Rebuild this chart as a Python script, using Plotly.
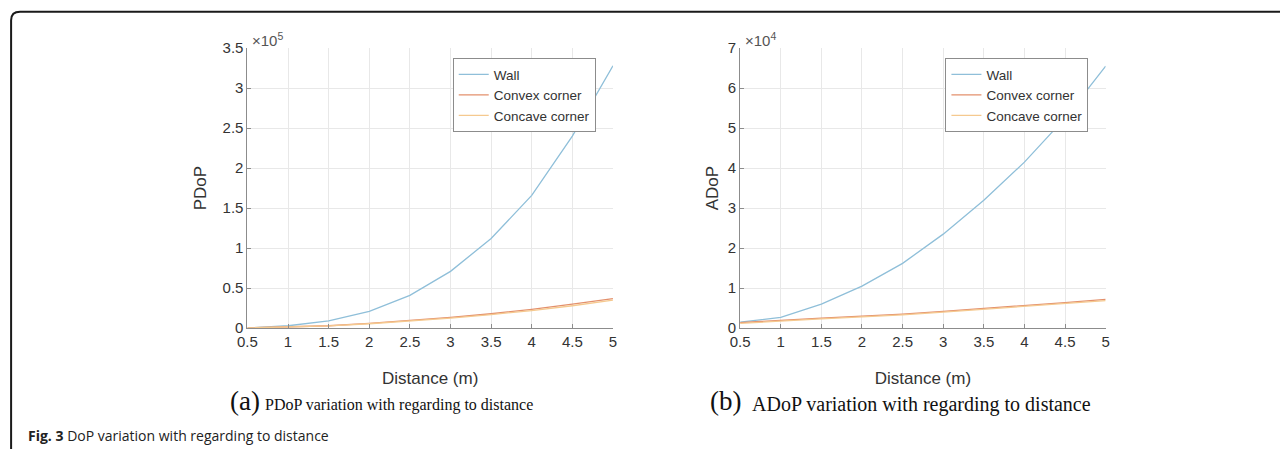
import plotly.graph_objects as go

distance = [0.5, 1.0, 1.5, 2.0, 2.5, 3.0, 3.5, 4.0, 4.5, 5.0]

pdop_wall = [300, 3000, 9000, 21000, 41000, 71000, 112000, 166000, 240000, 328000]
pdop_convex = [300, 1200, 3000, 6000, 9500, 13500, 18000, 23500, 30000, 37000]
pdop_concave = [300, 1100, 2800, 5500, 8800, 12500, 17000, 22000, 28000, 35000]

adop_wall = [1500, 2700, 6000, 10500, 16200, 23500, 32000, 41500, 52500, 65500]
adop_convex = [1400, 2000, 2500, 3000, 3500, 4200, 4900, 5600, 6400, 7200]
adop_concave = [1200, 1800, 2300, 2800, 3300, 4000, 4700, 5400, 6100, 6900]

series_names = ["Wall", "Convex corner", "Concave corner"]
series_colors = ["#8fbfd9", "#e3906c", "#f5c98f"]

x_ticks = [0.5, 1, 1.5, 2, 2.5, 3, 3.5, 4, 4.5, 5]
x_ticktext = ["0.5", "1", "1.5", "2", "2.5", "3", "3.5", "4", "4.5", "5"]
p_ticks = [0, 50000, 100000, 150000, 200000, 250000, 300000, 350000]
p_ticktext = ["0", "0.5", "1", "1.5", "2", "2.5", "3", "3.5"]
a_ticks = [0, 10000, 20000, 30000, 40000, 50000, 60000, 70000]
a_ticktext = ["0", "1", "2", "3", "4", "5", "6", "7"]

W, H = 1284, 457
# the page is captured with the body's 8px margin and shrunk back to the window,
# so target pixel positions are mapped into figure coordinates
SX, SY, OFF = 1300 / 1284, 473 / 457, 8


def px(x):
    return (x * SX - OFF) / W


def py(y):
    return 1 - (y * SY - OFF) / H


fig = go.Figure()

left_data = [pdop_wall, pdop_convex, pdop_concave]
right_data = [adop_wall, adop_convex, adop_concave]
for i, (name, col) in enumerate(zip(series_names, series_colors)):
    fig.add_trace(go.Scatter(x=distance, y=left_data[i], mode="lines", name=name,
                             line=dict(color=col, width=1.3), xaxis="x", yaxis="y",
                             legend="legend"))
for i, (name, col) in enumerate(zip(series_names, series_colors)):
    fig.add_trace(go.Scatter(x=distance, y=right_data[i], mode="lines", name=name,
                             line=dict(color=col, width=1.3), xaxis="x2", yaxis="y2",
                             legend="legend2"))

sans = "Liberation Sans, Arial, sans-serif"
tick_font = dict(family=sans, size=15, color="#333333")
title_font = dict(family=sans, size=17, color="#333333")
common_x = dict(range=[0.5, 5], tickvals=x_ticks, ticktext=x_ticktext, showgrid=True,
                gridcolor="#e8e8e8", showline=True, linecolor="#8c8c8c", linewidth=1,
                ticks="inside", ticklen=4, tickcolor="#8c8c8c", tickfont=tick_font,
                zeroline=False, mirror=False,
                title=dict(text="Distance (m)", font=title_font, standoff=22))
common_y = dict(showgrid=True, gridcolor="#e8e8e8", showline=True, linecolor="#8c8c8c",
                linewidth=1, ticks="inside", ticklen=4, tickcolor="#8c8c8c",
                tickfont=tick_font, zeroline=False)

legend_font = dict(family=sans, size=13.5, color="#333333")
fig.update_layout(
    width=W, height=H,
    autosize=False,
    margin=dict(l=0, r=0, t=0, b=0),
    paper_bgcolor="white", plot_bgcolor="white",
    xaxis=dict(domain=[px(245), px(610)], anchor="y", **common_x),
    yaxis=dict(domain=[py(328), py(47)], anchor="x", range=[0, 350000], tickvals=p_ticks,
               ticktext=p_ticktext, title=dict(text="PDoP", font=title_font, standoff=11),
               **common_y),
    xaxis2=dict(domain=[px(737), px(1102)], anchor="y2", **common_x),
    yaxis2=dict(domain=[py(328), py(47)], anchor="x2", range=[0, 70000], tickvals=a_ticks,
                ticktext=a_ticktext, title=dict(text="ADoP", font=title_font, standoff=4),
                **common_y),
    legend=dict(x=px(450), y=py(57), xanchor="left", yanchor="top",
                bgcolor="white", bordercolor="#8c8c8c", borderwidth=1,
                font=legend_font, tracegroupgap=0, itemwidth=30),
    legend2=dict(x=px(942), y=py(57), xanchor="left", yanchor="top",
                 bgcolor="white", bordercolor="#8c8c8c", borderwidth=1,
                 font=legend_font, tracegroupgap=0, itemwidth=30),
    showlegend=True,
)

ann = []
ann.append(dict(x=px(248), y=py(38), xref="paper", yref="paper", xanchor="left",
                yanchor="middle", showarrow=False, text="×10<sup>5</sup>",
                font=dict(family=sans, size=15, color="#555555")))
ann.append(dict(x=px(740), y=py(38), xref="paper", yref="paper", xanchor="left",
                yanchor="middle", showarrow=False, text="×10<sup>4</sup>",
                font=dict(family=sans, size=15, color="#555555")))
serif = "Liberation Serif, Times New Roman, serif"
ann.append(dict(x=px(226), y=py(401), xref="paper", yref="paper", xanchor="left",
                yanchor="middle", showarrow=False, text="(a)",
                font=dict(family=serif, size=27, color="#111111")))
ann.append(dict(x=px(261), y=py(405), xref="paper", yref="paper", xanchor="left",
                yanchor="middle", showarrow=False, text="PDoP variation with regarding to distance",
                font=dict(family=serif, size=16, color="#111111")))
ann.append(dict(x=px(705), y=py(401), xref="paper", yref="paper", xanchor="left",
                yanchor="middle", showarrow=False, text="(b)",
                font=dict(family=serif, size=27, color="#111111")))
ann.append(dict(x=px(747), y=py(405), xref="paper", yref="paper", xanchor="left",
                yanchor="middle", showarrow=False, text="ADoP variation with regarding to distance",
                font=dict(family=serif, size=20, color="#111111")))
ann.append(dict(x=px(24), y=py(436), xref="paper", yref="paper", xanchor="left",
                yanchor="middle", showarrow=False,
                text="<b>Fig. 3</b> DoP variation with regarding to distance",
                font=dict(family="Open Sans, sans-serif", size=14, color="#222222")))
fig.update_layout(annotations=ann)

fig.add_shape(type="path", xref="paper", yref="paper",
              path=(f"M {px(9)} 0 L {px(9)} {py(19)} Q {px(9)} {py(10.5)} {px(18)} {py(10.5)} "
                    f"L 1 {py(10.5)}"),
              line=dict(color="#1a1a1a", width=2))

fig.write_html("out.html")
